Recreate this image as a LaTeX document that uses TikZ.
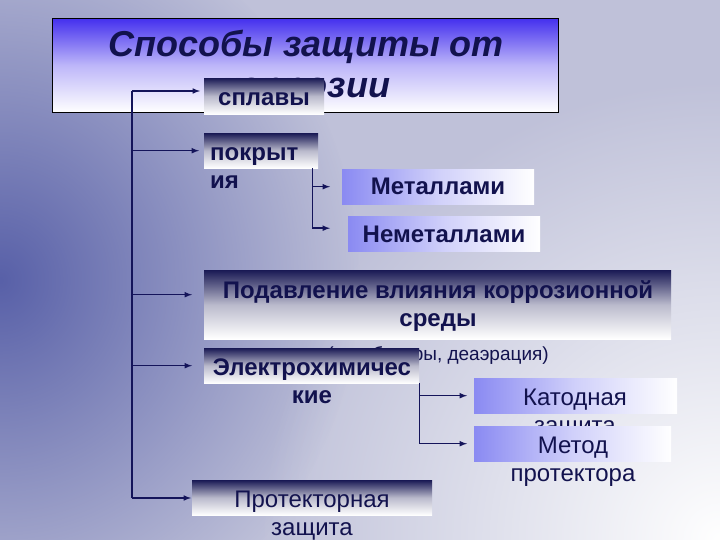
\documentclass[tikz,border=0pt]{standalone}
\usepackage{fontspec}
\setmainfont{Liberation Sans}
\usepackage{xcolor}
\usetikzlibrary{positioning, arrows, fadings}

\definecolor{ink}{HTML}{12124E}
\definecolor{wirecol}{HTML}{14145A}
\definecolor{bgdark}{HTML}{5860A8}
\definecolor{bgmid}{HTML}{BFC1D9}
\definecolor{titletop}{HTML}{4430EE}
\definecolor{boxtop}{HTML}{1A1A55}
\definecolor{lavender}{HTML}{8A8AF2}

\tikzfading[name=glow, inner color=transparent!0, outer color=transparent!100]

\begin{document}
\begin{tikzpicture}[
            x=1pt, y=-1pt,
            darkbox/.style={rectangle, anchor=north west, inner sep=0pt, top color=boxtop, bottom color=white, middle color=boxtop!30!white},
            lightbox/.style={rectangle, anchor=north west, inner sep=0pt, left color=lavender, right color=white, middle color=lavender!40!white},
            boldlabel/.style={font=\fontsize{24}{28}\selectfont\bfseries, text=ink, align=center, inner sep=0pt, anchor=base},
            plainlabel/.style={font=\fontsize{24}{28}\selectfont, text=ink, align=center, inner sep=0pt, anchor=base},
            wire/.style={draw=wirecol, line width=1.5pt},
            arr/.style={wire, -latex},
        ]
            \useasboundingbox (0,0) rectangle (720,540);
            \fill[bgmid] (0,0) rectangle (720,540);
            \begin{scope}
                \clip (0,0) rectangle (720,540);
                \fill[bgdark, path fading=glow] (0,280) ellipse (360pt and 380pt);
                \fill[white, path fading=glow] (720,540) circle (460pt);
            \end{scope}

            \node[rectangle, anchor=north west, inner sep=0pt, minimum width=506pt, minimum height=94pt, draw=black, line width=0.8pt,
                top color=titletop, bottom color=white, middle color=titletop!35!white] (titlebox) at (52,18) {};
            \node[font=\fontsize{36}{41}\selectfont\bfseries\itshape, text=ink, align=center, inner sep=0pt, anchor=base] (title) at (306,98) {Способы защиты от\\коррозии};

            \node[darkbox, minimum width=120pt, minimum height=36pt] (splav) at (204,78) {};
            \node[boldlabel] (splavtext) at (264,106) {сплавы};
            \node[darkbox, minimum width=114pt, minimum height=35pt] (pokr) at (204,133) {};
            \node[boldlabel, anchor=base west, align=left] (pokrtext) at (210,189) {покрыт\\ия};
            \node[lightbox, minimum width=192pt, minimum height=35pt] (metal) at (342,169) {};
            \node[boldlabel] (metaltext) at (438,195) {Металлами};
            \node[lightbox, minimum width=192pt, minimum height=35pt] (nemet) at (348,216) {};
            \node[boldlabel] (nemettext) at (444,243) {Неметаллами};
            \node[darkbox, minimum width=467pt, minimum height=69pt] (podav) at (204,270) {};
            \node[boldlabel] (podavtext) at (438,326) {Подавление влияния коррозионной\\среды};
            \node[plainlabel, font=\fontsize{19}{23}\selectfont] (podavnote) at (438,360) {(ингибиторы, деаэрация)};
            \node[darkbox, minimum width=215pt, minimum height=35pt] (elek) at (204,348) {};
            \node[boldlabel] (elektext) at (312,403) {Электрохимичес\\кие};
            \node[lightbox, minimum width=203pt, minimum height=35pt] (katod) at (474,378) {};
            \node[plainlabel] (katodtext) at (575,433) {Катодная\\защита};
            \node[lightbox, minimum width=197pt, minimum height=35pt] (metod) at (474,426) {};
            \node[plainlabel] (metodtext) at (573,481) {Метод\\протектора};
            \node[darkbox, minimum width=240pt, minimum height=35pt] (protek) at (192,480) {};
            \node[plainlabel] (protektext) at (312,535) {Протекторная\\защита};

            \coordinate (trunk) at (132,91);
            \coordinate (trunkend) at (132,498);
            \coordinate (podavin) at ([yshift=10pt]podav.west);
            \coordinate (nemetin) at ([yshift=5.5pt]nemet.west);
            \coordinate (pokrfork) at ([xshift=-6pt]pokr.south east);
            \draw[wire] (trunk) -- (trunkend);
            \draw[arr, shorten >=4pt] (trunk) -- (trunk -| splav.west);
            \draw[arr, shorten >=5pt] (trunk |- pokr.west) -- (pokr.west);
            \draw[arr, shorten >=12pt] (trunk |- podavin) -- (podavin);
            \draw[arr, shorten >=12pt] (trunk |- elek.west) -- (elek.west);
            \draw[arr, shorten >=1pt] (trunkend) -- (trunkend -| protek.west);
            \draw[arr, shorten >=12pt] (pokrfork) |- (metal.west);
            \draw[arr, shorten >=18pt] (pokrfork) |- (nemetin);
            \draw[arr, shorten >=7pt] (elek.south east) |- (katod.west);
            \draw[arr, shorten >=7pt] (elek.south east) |- (metod.west);
        \end{tikzpicture}
\end{document}
